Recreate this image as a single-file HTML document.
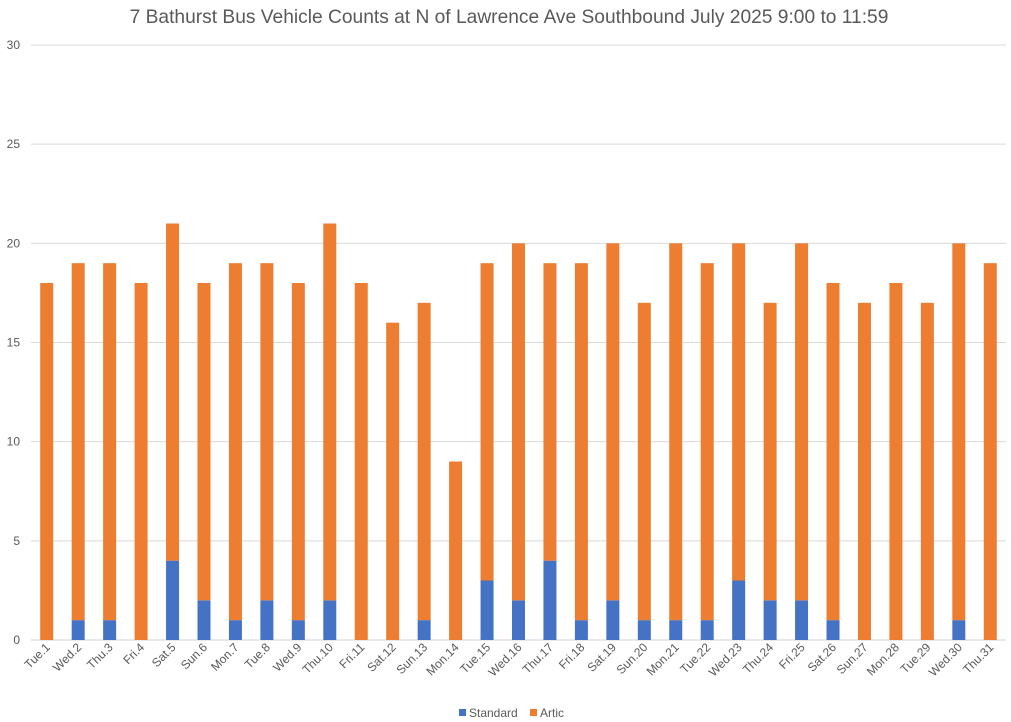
<!DOCTYPE html>
<html><head><meta charset="utf-8"><style>
body{margin:0;background:#fff;font-family:"Liberation Sans",Arial,sans-serif}
svg{display:block}
</style></head><body>
<svg id="chart" width="1011" height="722" xmlns="http://www.w3.org/2000/svg">
<text x="509" y="23" text-anchor="middle" font-size="19.2" fill="#595959" font-family="Liberation Sans, Arial, sans-serif">7 Bathurst Bus Vehicle Counts at N of Lawrence Ave Southbound July 2025  9:00 to 11:59</text>
<g id="grid"></g><g id="bars"></g><g id="xlabels"></g><g id="ylabels"></g>
<g>
<rect x="459" y="709" width="7" height="7" fill="#4472C4"/>
<text x="469" y="717" font-size="12" fill="#595959">Standard</text>
<rect x="530" y="709" width="7" height="7" fill="#ED7D31"/>
<text x="540" y="717" font-size="12" fill="#595959">Artic</text>
</g>
</svg>
<script>
const categories=["Tue.1","Wed.2","Thu.3","Fri.4","Sat.5","Sun.6","Mon.7","Tue.8","Wed.9","Thu.10","Fri.11","Sat.12","Sun.13","Mon.14","Tue.15","Wed.16","Thu.17","Fri.18","Sat.19","Sun.20","Mon.21","Tue.22","Wed.23","Thu.24","Fri.25","Sat.26","Sun.27","Mon.28","Tue.29","Wed.30","Thu.31"];
const standard=[0,1,1,0,4,2,1,2,1,2,0,0,1,0,3,2,4,1,2,1,1,1,3,2,2,1,0,0,0,1,0];
const artic=[18,18,18,18,17,16,18,17,17,19,18,16,16,9,16,18,15,18,18,16,19,18,17,15,18,17,17,18,17,19,19];
const yTicks=[0,5,10,15,20,25,30];
const NS="http://www.w3.org/2000/svg";
const L=31,R=1006,Y0=640,Y1=45,MAX=30;
const step=(R-L)/categories.length,bw=13;
const y=v=>Y0-(v/MAX)*(Y0-Y1);
const xc=i=>L+step*(i+0.5);
function mk(t,a,p){const e=document.createElementNS(NS,t);for(const k in a)e.setAttribute(k,a[k]);p.appendChild(e);return e;}
const grid=document.getElementById('grid'),bars=document.getElementById('bars'),xl=document.getElementById('xlabels'),yl=document.getElementById('ylabels');
yTicks.forEach(v=>{
 const ln=mk('line',{x1:L,x2:R,y1:y(v),y2:y(v),stroke:v===0?'#d0d0d0':'#d9d9d9','stroke-width':1},grid);
 
 
 const t=mk('text',{x:20,y:y(v)+4,'text-anchor':'end','font-size':12,fill:'#595959'},yl);
 t.textContent=v;
 
 
});
categories.forEach((c,i)=>{
 const x=xc(i)-bw/2;
 const s=mk('rect',{x:x,y:y(standard[i]),width:bw,height:y(0)-y(standard[i]),fill:'#4472C4'},bars);
 
 
 const a=mk('rect',{x:x,y:y(standard[i]+artic[i]),width:bw,height:y(standard[i])-y(standard[i]+artic[i]),fill:'#ED7D31'},bars);
 
 
 const tx=xc(i)+4,ty=648;
 const t=mk('text',{x:tx,y:ty,'text-anchor':'end','font-size':12,fill:'#595959',transform:`rotate(-45 ${tx} ${ty})`},xl);
 t.textContent=c;
 
 
});
</script>
</body></html>
